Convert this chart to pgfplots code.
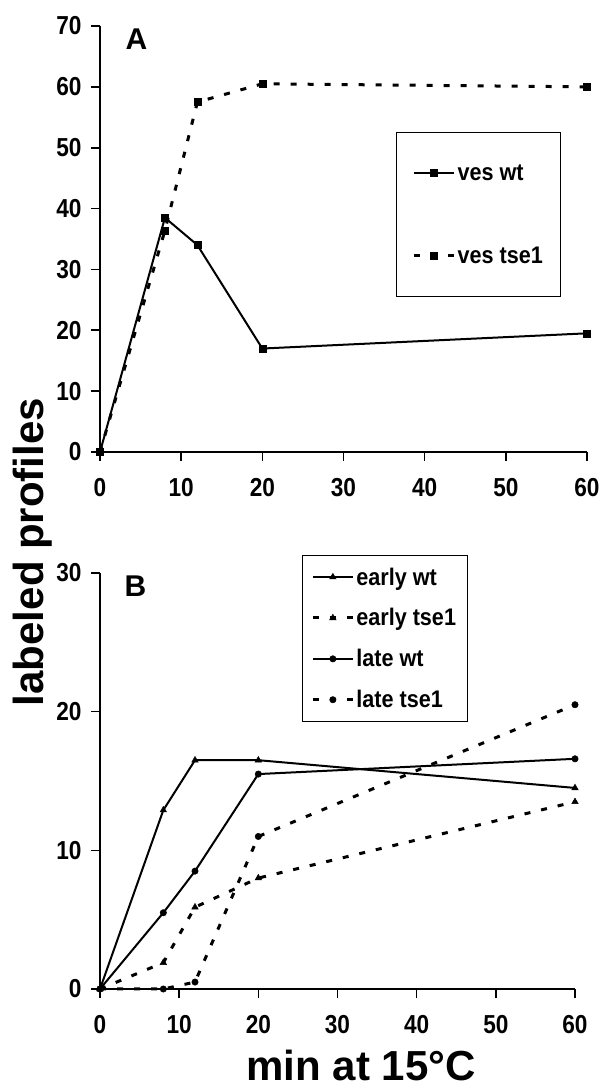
\documentclass[border=0pt]{standalone}
\usepackage{fontspec}
\setmainfont{Liberation Sans}
\newfontfamily\nb[FakeStretch=0.9]{Liberation Sans}
\newfontfamily\nt[FakeStretch=0.87]{Liberation Sans}
\usepackage{pgfplots}
\pgfplotsset{compat=1.18}
\pgfplotsset{
 panel/.style={
  scale only axis, clip=false,
  axis x line*=bottom, axis y line*=left,
  axis line style={line width=1.6pt,-},
  tick align=outside,
  major tick length=9pt,
  major tick style={line width=1.6pt,black},
  xmin=0,xmax=60, xtick={0,10,...,60},
  tick label style={font=\fontsize{26pt}{26pt}\selectfont\nt\bfseries, /pgf/number format/assume math mode=true},
  yticklabel style={xshift=-6pt},
  xticklabel style={yshift=-14pt},
  legend cell align=left,
  legend style={draw=black, line width=1pt, font=\fontsize{24pt}{24pt}\selectfont\nb\bfseries},
  legend image code/.code={\draw[mark repeat=2,mark phase=2,##1] plot coordinates {(0pt,0pt)(20pt,0pt)(40pt,0pt)};},
 },
 sol/.style={black, line width=2pt, solid, mark options={solid,line width=0.5pt}},
 dsh/.style={black, line width=3pt, dash pattern=on 6pt off 11pt, mark options={solid,line width=0.5pt}},
}
\begin{document}
\begin{tikzpicture}
\useasboundingbox (0,0) rectangle (603pt,1088pt);
% Panel A
\begin{axis}[panel, at={(100pt,636pt)}, anchor=south west, width=487pt, height=426pt,
  ymin=0, ymax=70, ytick={0,10,...,70},
  legend style={at={(0.608,0.751)}, anchor=north west, inner xsep=16pt, inner ysep=30pt, row sep=61pt}]
\addplot[sol, mark=square*, mark size=3.5pt] coordinates {(0,0)(8,38.5)(12,34)(20,17)(60,19.5)};
\addlegendentry{ves wt}
\addplot[dsh, mark=square*, mark size=3.5pt] coordinates {(0,0)(8,36.4)(12,57.5)(20,60.5)(60,60)};
\addlegendentry{ves tse1}
\end{axis}
% Panel B
\begin{axis}[panel, at={(100pt,99pt)}, anchor=south west, width=475pt, height=416pt,
  ymin=0, ymax=30, ytick={0,10,20,30},
  legend style={at={(0.425,1.043)}, anchor=north west, inner xsep=9pt, inner ysep=10pt, row sep=18pt}]
\addplot[sol, mark=triangle*, mark size=3.7pt] coordinates {(0,0)(8,12.9)(12,16.5)(20,16.5)(60,14.5)};
\addlegendentry{early wt}
\addplot[dsh, mark=triangle*, mark size=3.7pt] coordinates {(0,0)(8,1.9)(12,5.9)(20,8.0)(60,13.5)};
\addlegendentry{early tse1}
\addplot[sol, mark=*, mark size=3.2pt] coordinates {(0,0)(8,5.5)(12,8.5)(20,15.5)(60,16.6)};
\addlegendentry{late wt}
\addplot[dsh, mark=*, mark size=3.2pt] coordinates {(0,0)(8,0)(12,0.5)(20,11.0)(60,20.5)};
\addlegendentry{late tse1}
\end{axis}
\node[font=\fontsize{30pt}{30pt}\selectfont\bfseries, anchor=base] at (136.5pt,1038pt) {A};
\node[font=\fontsize{30pt}{30pt}\selectfont\bfseries, anchor=base] at (135.5pt,491pt) {B};
\node[rotate=90, anchor=base, font=\fontsize{42pt}{42pt}\selectfont\bfseries] at (43pt,536pt) {labeled profiles};
\node[anchor=base, inner sep=0pt, font=\fontsize{42pt}{42pt}\selectfont\bfseries] at (361pt,7pt) {min at 15°C};
\end{tikzpicture}
\end{document}
